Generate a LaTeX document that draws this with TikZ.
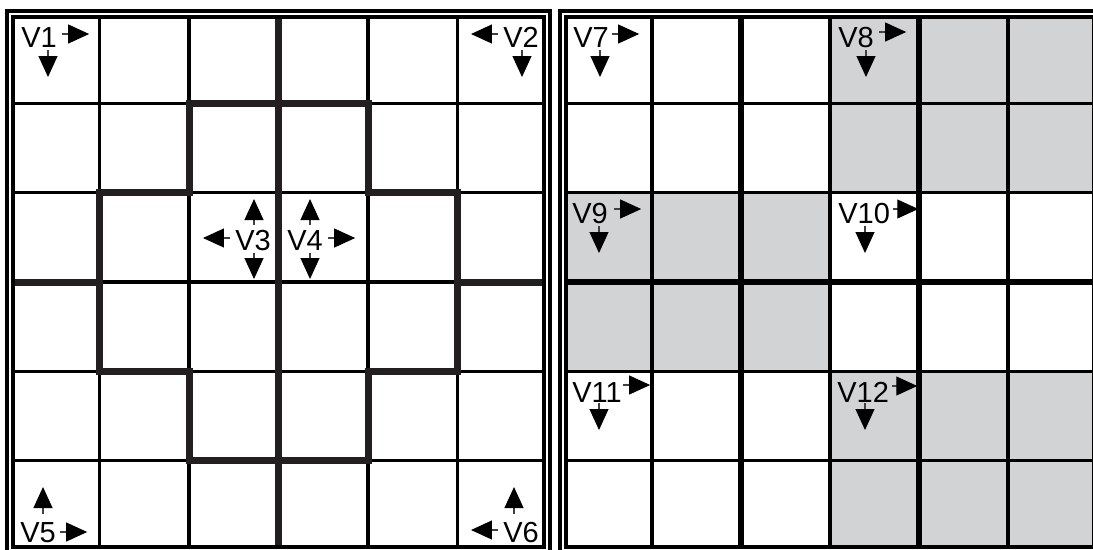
\documentclass[tikz,border=0pt]{standalone}
\usepackage{fontspec}
\setmainfont{Liberation Sans}
\usetikzlibrary{arrows.meta, calc}
\definecolor{wall}{HTML}{231F20}
\definecolor{cellgrey}{HTML}{D1D3D4}
\tikzset{
  gridln/.style={line width=0.065cm, black},
  wallln/.style={line width=0.14cm, wall},
  cutln/.style={line width=0.11cm, black},
  frame/.style={draw=black, line width=0.08cm, double=white, double distance=0.025cm},
  lbl/.style={anchor=base west, inner sep=0pt, font=\fontsize{16.5}{16.5}\selectfont},
  arr/.style={-{Triangle[length=0.42cm, width=0.38cm, color=black]}, line width=0.6pt, black!75},
}

\begin{document}
\begin{tikzpicture}[x=0.02cm, y=-0.02cm]
\useasboundingbox (0,0) rectangle (1093,549);
\clip (0,0) rectangle (1093,549);
% right grid: shaded blocks
\fill[cellgrey] (830,14) rectangle (1097,192.7);
\fill[cellgrey] (563,192.7) rectangle (830,371.3);
\fill[cellgrey] (830,371.3) rectangle (1097,550);
% cell lines
\foreach \k in {1,...,5} {
  \draw[gridln] (10+89.5*\k,14) -- (10+89.5*\k,550);
  \draw[gridln] (10,14+89.33*\k) -- (547,14+89.33*\k);
  \draw[gridln] (563+89*\k,14) -- (563+89*\k,550);
  \draw[gridln] (563,14+89.33*\k) -- (1097,14+89.33*\k);
}
% left grid: subdomain walls
\draw[wallln] (278.5,14) -- (278.5,550);
\draw[wallln] (10,282) -- (99.5,282);
\draw[wallln] (457.5,282) -- (547,282);
\draw[wallln] (189,103.3) -- (368,103.3) -- (368,192.7) -- (457.5,192.7) -- (457.5,371.3)
  -- (368,371.3) -- (368,460.7) -- (189,460.7) -- (189,371.3) -- (99.5,371.3)
  -- (99.5,192.7) -- (189,192.7) -- cycle;
% right grid: block cuts
\draw[cutln] (741,14) -- (741,550);
\draw[cutln] (919,14) -- (919,550);
\draw[cutln] (563,282) -- (1097,282);
% outer frames
\draw[frame] (10,14) rectangle (547,550);
\draw[frame] (563,14) rectangle (1097,550);

% labels and sweep directions
\node[lbl] (v1) at (21,47) {V1};
\draw[arr] ($(v1.base east)+(5,-13)$) -- ++(27,0);
\draw[arr] ($(v1.base west)+(27,3)$) -- ++(0,27);
\node[lbl] (v2) at (503,47) {V2};
\draw[arr] ($(v2.base west)+(-5,-13)$) -- ++(-27,0);
\draw[arr] ($(v2.base west)+(19,3)$) -- ++(0,27);
\node[lbl] (v3) at (235,250) {V3};
\draw[arr] ($(v3.base west)+(-5,-12)$) -- ++(-27,0);
\draw[arr] ($(v3.base west)+(19,-25)$) -- ++(0,-26);
\draw[arr] ($(v3.base west)+(19,3)$) -- ++(0,26);
\node[lbl] (v4) at (287,250) {V4};
\draw[arr] ($(v4.base east)+(5,-12)$) -- ++(27,0);
\draw[arr] ($(v4.base west)+(23,-25)$) -- ++(0,-26);
\draw[arr] ($(v4.base west)+(23,3)$) -- ++(0,26);
\node[lbl] (v5) at (20,542) {V5};
\draw[arr] ($(v5.base west)+(23,-28)$) -- ++(0,-27);
\draw[arr] ($(v5.base east)+(4,-10)$) -- ++(27,0);
\node[lbl] (v6) at (503,542) {V6};
\draw[arr] ($(v6.base west)+(11,-28)$) -- ++(0,-27);
\draw[arr] ($(v6.base west)+(-5,-12)$) -- ++(-27,0);
\node[lbl] (v7) at (573,47) {V7};
\draw[arr] ($(v7.base east)+(3,-13)$) -- ++(27,0);
\draw[arr] ($(v7.base west)+(27,3)$) -- ++(0,27);
\node[lbl] (v8) at (838,47) {V8};
\draw[arr] ($(v8.base east)+(5,-15)$) -- ++(27,0);
\draw[arr] ($(v8.base west)+(28,3)$) -- ++(0,27);
\node[lbl] (v9) at (572,223) {V9};
\draw[arr] ($(v9.base east)+(6,-14)$) -- ++(27,0);
\draw[arr] ($(v9.base west)+(27,3)$) -- ++(0,27);
\node[lbl] (v10) at (838,223) {V10};
\draw[arr] ($(v10.base east)+(3,-14)$) -- ++(25,0);
\draw[arr] ($(v10.base west)+(27,3)$) -- ++(0,27);
\node[lbl] (v11) at (572,402) {V11};
\draw[arr] ($(v11.base east)+(1,-17)$) -- ++(27,0);
\draw[arr] ($(v11.base west)+(27,1)$) -- ++(0,27);
\node[lbl] (v12) at (837,402) {V12};
\draw[arr] ($(v12.base east)+(3,-16)$) -- ++(25,0);
\draw[arr] ($(v12.base west)+(28,1)$) -- ++(0,27);
\end{tikzpicture}
\end{document}
